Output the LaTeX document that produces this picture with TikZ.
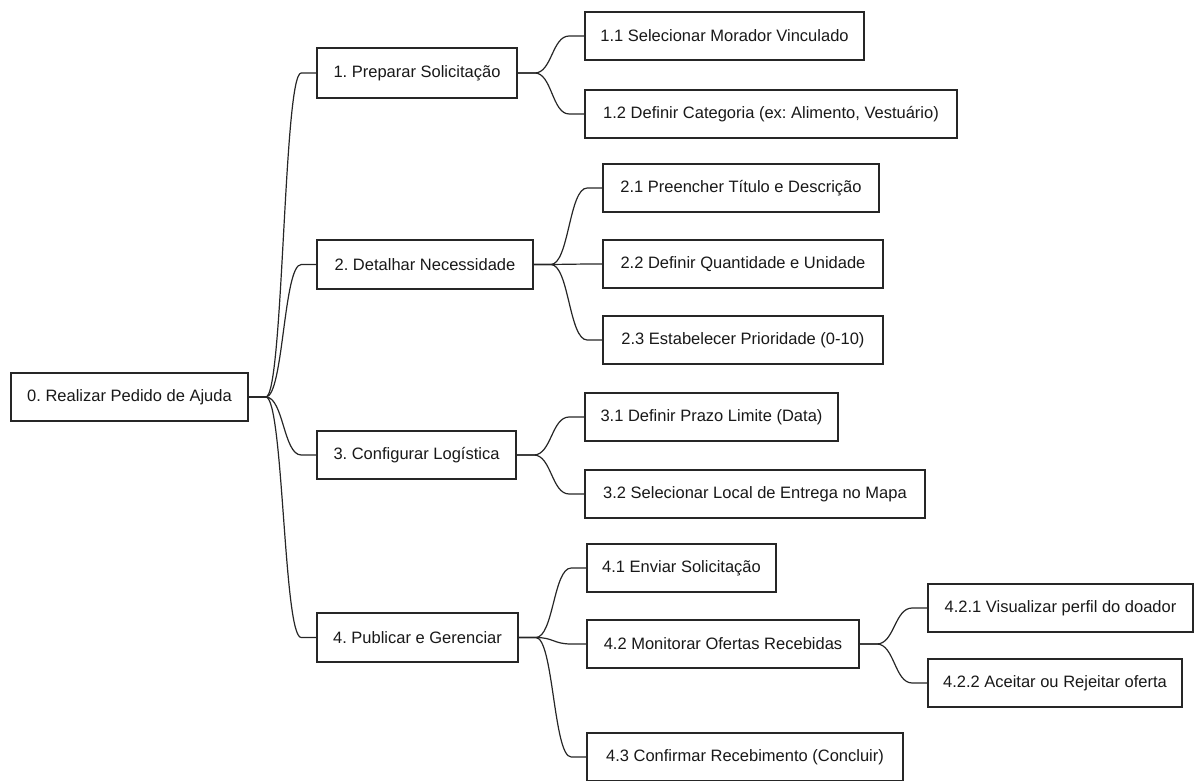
\documentclass[tikz,border=0pt]{standalone}
\usepackage{fontspec}
\setmainfont{Liberation Sans}
\usetikzlibrary{calc}
\frenchspacing

\tikzset{
  task/.style={draw=black!85, line width=1.6pt, fill=white, inner sep=0pt,
    align=center, text=black!90, font=\fontsize{16.5}{20}\selectfont},
  conn/.style={draw=black!85, line width=1.2pt},
}

% box from its left, right, top and bottom edges (in px)
\newcommand\taskbox[6]{%
  \node[task, minimum width={(#3)-(#2)}, minimum height={(#5)-(#4)}]
    (#1) at ({((#2)+(#3))/2},{((#4)+(#5))/2}) {#6};}

% curved branch from the right side of a parent to the left side of a child
\newcommand\branchto[2]{%
  \draw[conn] let \p1=(#1.east), \p2=(#2.west) in
    (\p1) -- (\x1+17pt,\y1)
    .. controls ({0.5*(\x1+\x2)+1pt},\y1) and ({0.5*(\x1+\x2)+1pt},\y2) ..
    (\x2-15pt,\y2) -- (\p2);}

\begin{document}
\begin{tikzpicture}[x=1pt,y=-1pt]
\useasboundingbox (0,0) rectangle (1194,781);
\clip (0,0) rectangle (1194,781);

\taskbox{r}{11}{248}{373}{421}{0. Realizar Pedido de Ajuda}

\taskbox{a}{317}{517}{48}{98}{1. Preparar Solicitação}
\taskbox{a1}{585}{864}{12}{60}{1.1 Selecionar Morador Vinculado}
\taskbox{a2}{585}{957}{90}{138}{1.2 Definir Categoria (ex: Alimento, Vestuário)}

\taskbox{b}{317}{533}{240}{289}{2. Detalhar Necessidade}
\taskbox{b1}{603}{879}{164}{212}{2.1 Preencher Título e Descrição}
\taskbox{b2}{603}{883}{240}{288}{2.2 Definir Quantidade e Unidade}
\taskbox{b3}{603}{883}{316}{364}{2.3 Estabelecer Prioridade (0-10)}

\taskbox{c}{317}{516}{431}{479}{3. Configurar Logística}
\taskbox{c1}{585}{838}{393}{441}{3.1 Definir Prazo Limite (Data)}
\taskbox{c2}{585}{925}{470}{518}{3.2 Selecionar Local de Entrega no Mapa}

\taskbox{d}{317}{518}{613}{662}{4. Publicar e Gerenciar}
\taskbox{d1}{587}{776}{544}{592}{4.1 Enviar Solicitação}
\taskbox{d2}{587}{859}{620}{668}{4.2 Monitorar Ofertas Recebidas}
\taskbox{d3}{587}{903}{733}{781}{4.3 Confirmar Recebimento (Concluir)}
\taskbox{e1}{928}{1193}{584}{632}{4.2.1 Visualizar perfil do doador}
\taskbox{e2}{928}{1182}{659}{707}{4.2.2 Aceitar ou Rejeitar oferta}

\foreach \pa/\ch in {r/a, r/b, r/c, r/d,
                   a/a1, a/a2,
                   b/b1, b/b2, b/b3,
                   c/c1, c/c2,
                   d/d1, d/d2, d/d3,
                   d2/e1, d2/e2}
  {\branchto{\pa}{\ch}}
\end{tikzpicture}
\end{document}
